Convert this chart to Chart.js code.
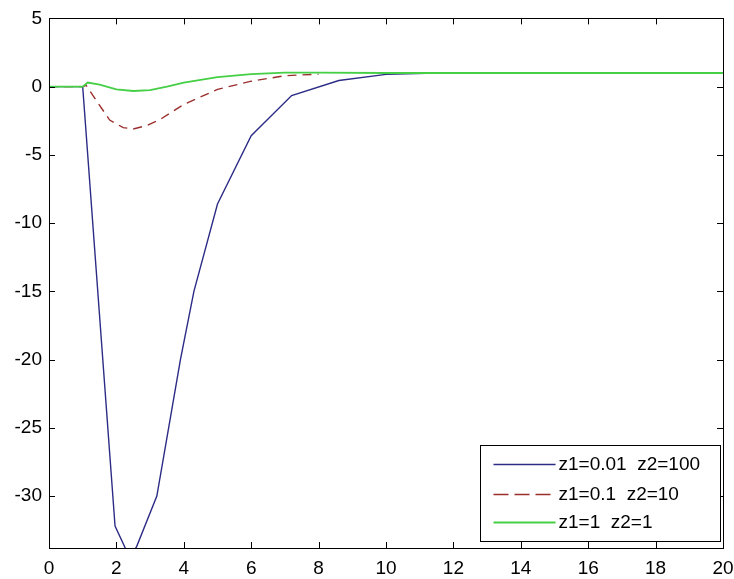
<html lang="en">
<head>
    <meta charset="UTF-8">
    <title>Step response</title>
    <script src="https://cdn.jsdelivr.net/npm/chart.js"></script>
    <style>
        html, body { margin: 0; padding: 0; background: #fff; }
        #wrap { width: 734px; height: 579px; }
    </style>
</head>
<body>
    <div id="wrap"><canvas id="lineChart"></canvas></div>

    <script>
        // values
        const blueX = [0, 1, 1.96, 2.3, 2.5, 2.6, 3.2, 3.55, 3.9, 4.3, 5, 6, 7.2, 8.6, 10, 11.2];
        const blueY = [0, 0, -32.2, -34, -34.1, -33.7, -30, -25, -20, -15, -8.6, -3.6, -0.65, 0.45, 0.9, 0.97];

        const redX = [0, 1, 1.1, 1.4, 1.8, 2.2, 2.5, 2.9, 3.3, 4, 5, 6, 7, 8];
        const redY = [0, 0, 0.1, -1.0, -2.45, -3.0, -3.1, -2.85, -2.4, -1.3, -0.2, 0.4, 0.8, 0.92];

        const greenX = [0, 1, 1.15, 1.5, 2, 2.5, 3, 3.5, 4, 5, 6, 7, 8, 10, 20];
        const greenY = [0, 0, 0.3, 0.15, -0.2, -0.32, -0.25, 0, 0.3, 0.7, 0.92, 1.02, 1.02, 1.0, 1.0];

        const seriesNames = ['z1=0.01  z2=100', 'z1=0.1  z2=10', 'z1=1  z2=1'];
        const xTicks = [0, 2, 4, 6, 8, 10, 12, 14, 16, 18, 20];
        const yTicks = [5, 0, -5, -10, -15, -20, -25, -30];

        const FONT = "'Liberation Sans', Arial, sans-serif";

        function pts(xs, ys) {
            return xs.map((x, i) => ({ x: x, y: ys[i] }));
        }

        // box round the axes, inward ticks, legend inside the plot
        const matlabFrame = {
            id: 'matlabFrame',
            afterDraw(chart) {
                const ctx = chart.ctx;
                const a = chart.chartArea;
                const sx = chart.scales.x, sy = chart.scales.y;
                ctx.save();
                ctx.strokeStyle = '#000';
                ctx.lineWidth = 1;
                ctx.strokeRect(Math.round(a.left) + 0.5, Math.round(a.top) + 0.5,
                    Math.round(a.width), Math.round(a.height));

                ctx.beginPath();
                xTicks.forEach(v => {
                    const px = Math.round(sx.getPixelForValue(v)) + 0.5;
                    ctx.moveTo(px, a.bottom); ctx.lineTo(px, a.bottom - 6);
                    ctx.moveTo(px, a.top); ctx.lineTo(px, a.top + 6);
                });
                yTicks.forEach(v => {
                    const py = Math.round(sy.getPixelForValue(v)) + 0.5;
                    ctx.moveTo(a.left, py); ctx.lineTo(a.left + 6, py);
                    ctx.moveTo(a.right, py); ctx.lineTo(a.right - 6, py);
                });
                ctx.stroke();

                // legend
                const w = 240, h = 96;
                const bx = Math.round(a.right - 3 - w) + 0.5;
                const by = Math.round(a.bottom - 7 - h) + 0.5;
                ctx.fillStyle = '#fff';
                ctx.fillRect(bx, by, w, h);
                ctx.strokeStyle = '#000';
                ctx.strokeRect(bx, by, w, h);
                const rows = [19, 49, 77];
                ctx.font = '19px ' + FONT;
                ctx.textBaseline = 'middle';
                chart.data.datasets.forEach((ds, i) => {
                    const ry = by + rows[i];
                    ctx.beginPath();
                    ctx.strokeStyle = ds.borderColor;
                    ctx.lineWidth = ds.borderWidth;
                    ctx.setLineDash(ds.borderDash.length ? [15, 6] : []);
                    ctx.moveTo(bx + 13, ry); ctx.lineTo(bx + 75, ry);
                    ctx.stroke();
                    ctx.setLineDash([]);
                    ctx.fillStyle = '#000';
                    ctx.fillText(ds.label, bx + 78, ry);
                });
                ctx.restore();
            }
        };

        const ctx = document.getElementById('lineChart').getContext('2d');
        const chart = new Chart(ctx, {
            type: 'line',
            data: {
                datasets: [{
                    label: seriesNames[0],
                    data: pts(blueX, blueY),
                    borderColor: '#2c2c86',
                    borderWidth: 1.4,
                    borderDash: [],
                    order: 2
                }, {
                    label: seriesNames[1],
                    data: pts(redX, redY),
                    borderColor: '#9a2e2c',
                    borderWidth: 1.4,
                    borderDash: [9, 6],
                    order: 1
                }, {
                    label: seriesNames[2],
                    data: pts(greenX, greenY),
                    borderColor: '#45cf45',
                    borderWidth: 1.8,
                    borderDash: [],
                    order: 0
                }]
            },
            options: {
                responsive: true,
                maintainAspectRatio: false,
                animation: false,
                elements: {
                    point: { radius: 0, hoverRadius: 0 },
                    line: { tension: 0, fill: false }
                },
                layout: { padding: { top: 18, right: 0, left: 0, bottom: 0 } },
                scales: {
                    x: {
                        type: 'linear',
                        min: 0,
                        max: 20,
                        grid: { display: false, drawTicks: false },
                        border: { display: false },
                        afterBuildTicks: s => { s.ticks = xTicks.map(v => ({ value: v })); },
                        afterFit: s => {
                            s.height = 31;
                            s.paddingLeft = 0;
                            s.paddingRight = 11;
                        },
                        ticks: {
                            autoSkip: false,
                            maxRotation: 0,
                            padding: 9,
                            color: '#000',
                            font: { family: FONT, size: 19 }
                        }
                    },
                    y: {
                        type: 'linear',
                        min: -33.8,
                        max: 5,
                        grid: { display: false, drawTicks: false },
                        border: { display: false },
                        afterBuildTicks: s => { s.ticks = yTicks.map(v => ({ value: v })); },
                        afterFit: s => { s.width = 49; },
                        ticks: {
                            autoSkip: false,
                            padding: 7,
                            color: '#000',
                            font: { family: FONT, size: 19 }
                        }
                    }
                },
                plugins: {
                    legend: { display: false },
                    tooltip: { enabled: false }
                }
            },
            plugins: [matlabFrame]
        });
    </script>
</body>
</html>
